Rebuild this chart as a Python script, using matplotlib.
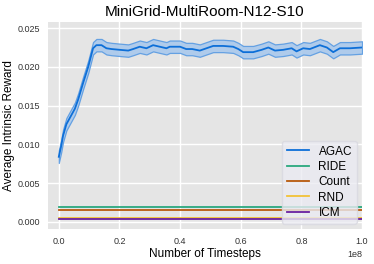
import matplotlib.pyplot as plt

plt.rcParams['font.family'] = ['Liberation Sans', 'DejaVu Sans']

# AGAC mean curve (timesteps, reward)
steps = [0.0, 0.008e8, 0.014e8, 0.025e8, 0.039e8, 0.053e8, 0.064e8, 0.08e8, 0.097e8,
         0.113e8, 0.124e8, 0.141e8, 0.157e8, 0.174e8, 0.201e8, 0.229e8, 0.245e8,
         0.267e8, 0.289e8, 0.311e8, 0.333e8, 0.355e8, 0.366e8, 0.4e8, 0.42e8,
         0.44e8, 0.465e8, 0.487e8, 0.509e8, 0.542e8, 0.575e8, 0.592e8, 0.608e8,
         0.641e8, 0.669e8, 0.691e8, 0.713e8, 0.74e8, 0.768e8, 0.784e8, 0.806e8,
         0.828e8, 0.861e8, 0.884e8, 0.905e8, 0.927e8, 0.96e8, 1.0e8]
agac = [0.0084, 0.0098, 0.0111, 0.0126, 0.0136, 0.0146, 0.0158, 0.0179, 0.0200,
        0.0224, 0.0228, 0.0228, 0.0224, 0.0223, 0.0222, 0.0221, 0.0223,
        0.0226, 0.0224, 0.0228, 0.0226, 0.0224, 0.0226, 0.0226, 0.0223,
        0.0223, 0.0221, 0.0224, 0.0227, 0.0227, 0.0226, 0.0223, 0.0219,
        0.0219, 0.0222, 0.0225, 0.0221, 0.0222, 0.0224, 0.0220, 0.0224,
        0.0223, 0.0228, 0.0225, 0.0219, 0.0224, 0.0224, 0.0225]
agac_err = 0.0008

# flat baselines
x_range = [0.0, 1.0e8]
ride = 0.0019
count = 0.0015
rnd = 0.0005
icm = 0.0004

fig, ax = plt.subplots(figsize=(3.74, 2.64), dpi=100)
ax.set_facecolor('#e5e5e5')
for s in ax.spines.values():
    s.set_visible(False)
ax.grid(color='white', linewidth=1.0)
ax.set_axisbelow(True)

lower = [v - agac_err for v in agac]
upper = [v + agac_err for v in agac]
ax.fill_between(steps, lower, upper, color='#a9c9ec', alpha=0.9, linewidth=0.9,
                edgecolor='#5a9be2')
ax.plot(steps, agac, color='#0d6fd8', lw=1.3, label='AGAC')
ax.plot(x_range, [ride, ride], color='#2aa87e', lw=1.3, label='RIDE')
ax.plot(x_range, [count, count], color='#b85a0d', lw=1.3, label='Count')
ax.plot(x_range, [rnd, rnd], color='#f2c237', lw=1.3, label='RND')
ax.plot(x_range, [icm, icm], color='#6a1fa0', lw=1.3, label='ICM')

ax.set_xlim(-0.036e8, 1.0e8)
ax.set_ylim(-0.0009, 0.0258)
ax.set_xticks([0, 0.2e8, 0.4e8, 0.6e8, 0.8e8, 1.0e8])
ax.set_yticks([0.0, 0.005, 0.01, 0.015, 0.02, 0.025])
ax.set_yticklabels(['0.000', '0.005', '0.010', '0.015', '0.020', '0.025'])
ax.tick_params(length=0, labelsize=6.5, labelcolor='#333333', pad=5.5)
ax.xaxis.get_offset_text().set_fontsize(6.5)

ax.set_title('MiniGrid-MultiRoom-N12-S10', fontsize=11, pad=4)
ax.set_xlabel('Number of Timesteps', fontsize=8.5, labelpad=1.5)
ax.set_ylabel('Average Intrinsic Reward', fontsize=8.5, labelpad=2)

leg = ax.legend(loc='lower right', fontsize=8.5, facecolor='#ebebf2',
                edgecolor='#d8d8e0', framealpha=0.8, handlelength=1.9,
                borderaxespad=0.45, labelspacing=0.28)

fig.subplots_adjust(left=0.128, right=0.968, top=0.917, bottom=0.133)
fig.savefig('out.png', dpi=100)
